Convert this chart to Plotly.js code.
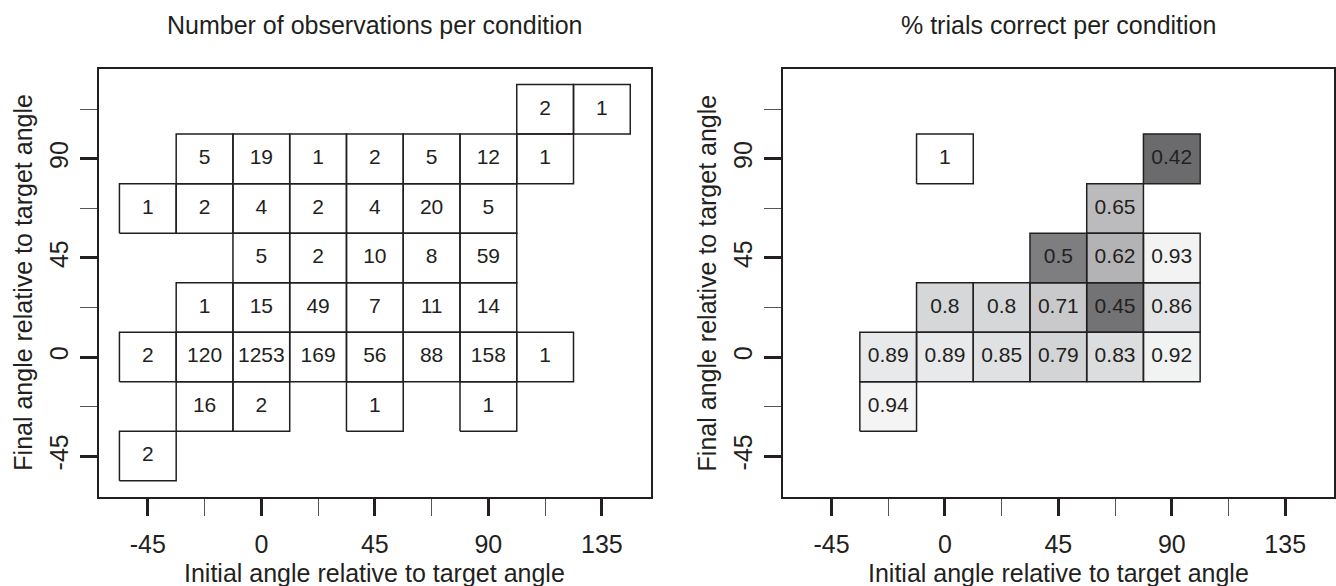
<!DOCTYPE html>
<html>
<head>
<meta charset="utf-8">
<script src="https://cdn.plot.ly/plotly-3.0.1.min.js"></script>
<style>html,body{margin:0;padding:0;background:#fff;}#chart{width:1336px;height:586px;}</style>
</head>
<body>
<div id="chart"></div>
<script>
// ---- Data: number of observations per condition ----
const obsInitial = [112.5, 135,
  -22.5, 0, 22.5, 45, 67.5, 90, 112.5,
  -45, -22.5, 0, 22.5, 45, 67.5, 90,
  0, 22.5, 45, 67.5, 90,
  -22.5, 0, 22.5, 45, 67.5, 90,
  -45, -22.5, 0, 22.5, 45, 67.5, 90, 112.5,
  -22.5, 0, 45, 90,
  -45];
const obsFinal = [112.5, 112.5,
  90, 90, 90, 90, 90, 90, 90,
  67.5, 67.5, 67.5, 67.5, 67.5, 67.5, 67.5,
  45, 45, 45, 45, 45,
  22.5, 22.5, 22.5, 22.5, 22.5, 22.5,
  0, 0, 0, 0, 0, 0, 0, 0,
  -22.5, -22.5, -22.5, -22.5,
  -45];
const obsCount = [2, 1,
  5, 19, 1, 2, 5, 12, 1,
  1, 2, 4, 2, 4, 20, 5,
  5, 2, 10, 8, 59,
  1, 15, 49, 7, 11, 14,
  2, 120, 1253, 169, 56, 88, 158, 1,
  16, 2, 1, 1,
  2];

// ---- Data: proportion of trials correct per condition ----
const pctInitial = [0, 90,
  67.5,
  45, 67.5, 90,
  0, 22.5, 45, 67.5, 90,
  -22.5, 0, 22.5, 45, 67.5, 90,
  -22.5];
const pctFinal = [90, 90,
  67.5,
  45, 45, 45,
  22.5, 22.5, 22.5, 22.5, 22.5,
  0, 0, 0, 0, 0, 0,
  -22.5];
const pctCorrect = [1, 0.42,
  0.65,
  0.5, 0.62, 0.93,
  0.8, 0.8, 0.71, 0.45, 0.86,
  0.89, 0.89, 0.85, 0.79, 0.83, 0.92,
  0.94];

// Tick labels
const tickValues = [-45, 0, 45, 90, 135];
const tickLabels = ['-45', '0', '45', '90', '135'];
const minorTickValues = [-22.5, 22.5, 67.5, 112.5];

// Bin width of the conditions (degrees)
const binWidth = 22.5;

const INK = '#231f20';
const FONT = 'Liberation Sans, Arial, Helvetica, sans-serif';

// grey shading for proportions
const shadeScale = [
  [0.40, '#666668'], [0.42, '#6b6b6d'], [0.45, '#737375'], [0.50, '#7e7e80'],
  [0.62, '#b3b3b5'], [0.65, '#bbbbbd'], [0.71, '#c9c9cb'], [0.79, '#d3d4d6'],
  [0.80, '#d6d7d9'], [0.83, '#dcdddf'], [0.85, '#e0e1e3'], [0.86, '#e3e4e6'],
  [0.89, '#e8e9eb'], [0.92, '#f1f2f2'], [0.94, '#f4f4f4'], [1.00, '#ffffff']
];
const zmin = 0.4, zmax = 1.0;
const colorscale = shadeScale.map(s => [(s[0] - zmin) / (zmax - zmin), s[1]]);

function borderTrace(xs, ys, xa, ya) {
  const h = binWidth / 2;
  const px = [], py = [];
  for (let i = 0; i < xs.length; i++) {
    px.push(xs[i] - h, xs[i] + h, xs[i] + h, xs[i] - h, xs[i] - h, null);
    py.push(ys[i] - h, ys[i] - h, ys[i] + h, ys[i] + h, ys[i] - h, null);
  }
  return {type: 'scatter', mode: 'lines', x: px, y: py, xaxis: xa, yaxis: ya,
    line: {color: INK, width: 1.5}, hoverinfo: 'skip', connectgaps: false};
}
function textTrace(xs, ys, labels, xa, ya) {
  return {type: 'scatter', mode: 'text', x: xs, y: ys, text: labels, xaxis: xa, yaxis: ya,
    textfont: {family: FONT, size: 21, color: INK}, textposition: 'middle center',
    hoverinfo: 'skip', cliponaxis: false};
}
function heatTrace(xs, ys, vals, xa, ya) {
  const ux = [...new Set(xs)].sort((a, b) => a - b);
  const uy = [...new Set(ys)].sort((a, b) => a - b);
  const z = uy.map(() => ux.map(() => null));
  for (let i = 0; i < xs.length; i++) z[uy.indexOf(ys[i])][ux.indexOf(xs[i])] = vals[i];
  return {type: 'heatmap', x: ux, y: uy, z: z, xaxis: xa, yaxis: ya, zmin: zmin, zmax: zmax,
    colorscale: colorscale, showscale: false, hoverinfo: 'skip', zsmooth: false};
}

const traces = [
  borderTrace(obsInitial, obsFinal, 'x', 'y'),
  textTrace(obsInitial, obsFinal, obsCount.map(String), 'x', 'y'),
  heatTrace(pctInitial, pctFinal, pctCorrect, 'x2', 'y2'),
  borderTrace(pctInitial, pctFinal, 'x2', 'y2'),
  textTrace(pctInitial, pctFinal, pctCorrect.map(String), 'x2', 'y2')
];

const W = 1336, H = 586;
const FS = 25;
function axisBase(isY) {
  return {
    tickmode: 'array', tickvals: tickValues, ticktext: tickLabels,
    ticks: 'outside', ticklen: 17, tickwidth: 3, tickcolor: INK,
    showline: true, linecolor: INK, linewidth: 2, mirror: true,
    showgrid: false, zeroline: false, fixedrange: true,
    tickfont: {family: FONT, size: FS, color: INK},
    tickangle: isY ? -90 : 0,
    ticklabelstandoff: isY ? 2 : 7,
    minor: {tickmode: 'array', tickvals: minorTickValues, ticks: 'outside',
      ticklen: 17, tickwidth: 1, tickcolor: '#555555', showgrid: false}
  };
}
const xRange = [-64.35, 154.35], yRange = [-63.45, 130.95];
const yDom = [1 - 496.7 / H, 1 - 68.7 / H];
const xDom1 = [99 / W, 650.7 / W], xDom2 = [782.7 / W, 1334 / W];

const layout = {
  width: W, height: H, margin: {l: 0, r: 0, t: 0, b: 0},
  paper_bgcolor: '#ffffff', plot_bgcolor: '#ffffff', showlegend: false,
  xaxis: Object.assign(axisBase(false), {domain: xDom1, range: xRange, anchor: 'y'}),
  yaxis: Object.assign(axisBase(true), {domain: yDom, range: yRange, anchor: 'x'}),
  xaxis2: Object.assign(axisBase(false), {domain: xDom2, range: xRange, anchor: 'y2'}),
  yaxis2: Object.assign(axisBase(true), {domain: yDom, range: yRange, anchor: 'x2'}),
  annotations: []
};
function ann(text, xpx, ypx, angle) {
  return {text: text, xref: 'paper', yref: 'paper', x: xpx / W, y: 1 - ypx / H,
    xanchor: 'center', yanchor: 'middle', showarrow: false, textangle: angle || 0,
    font: {family: FONT, size: FS, color: INK}};
}
const c1 = (99 + 650.7) / 2, c2 = (782.7 + 1334) / 2, cy = (68.7 + 496.7) / 2;
layout.annotations.push(ann('Number of observations per condition', c1, 25));
layout.annotations.push(ann('% trials correct per condition', c2, 25));
layout.annotations.push(ann('Initial angle relative to target angle', c1, 573));
layout.annotations.push(ann('Initial angle relative to target angle', c2, 573));
layout.annotations.push(ann('Final angle relative to target angle', 23, cy, -90));
layout.annotations.push(ann('Final angle relative to target angle', 23 + 683.7, cy, -90));

Plotly.newPlot('chart', traces, layout, {staticPlot: true, displayModeBar: false});
</script>
</body>
</html>
